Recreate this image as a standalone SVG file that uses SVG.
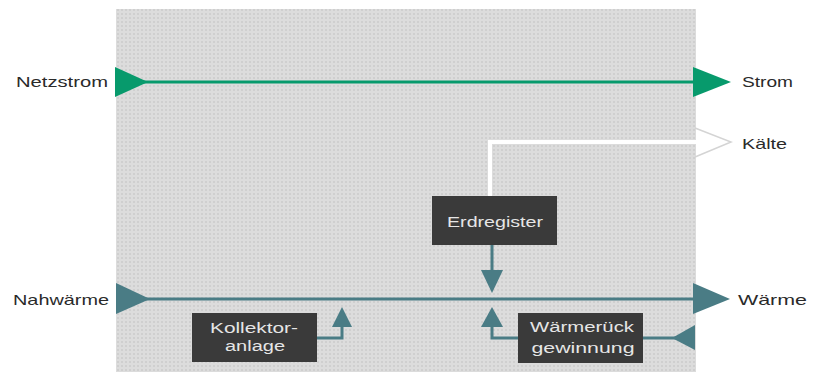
<svg xmlns="http://www.w3.org/2000/svg" width="820" height="372" viewBox="0 0 820 372">
<defs>
<pattern id="dots" width="4" height="4" patternUnits="userSpaceOnUse">
<rect width="4" height="4" fill="#dcdcdc"/>
<rect x="1" y="1" width="2" height="2" fill="#cfcfcf"/>
</pattern>
<style>
.lbl{font-family:"Liberation Sans",Arial,sans-serif;font-size:15px;fill:#2a2a2a}
.btxt{font-family:"Liberation Sans",Arial,sans-serif;font-size:14px;fill:#e6e6e6;text-anchor:middle}
.box{fill:#3a3a3a}
.green{stroke:#079a6c;stroke-width:3;fill:none}
.teal{stroke:#4a7c85;stroke-width:3;fill:none}
.gh{fill:#079a6c}
.th{fill:#4a7c85}
.white{stroke:#ffffff;stroke-width:4;fill:none}
</style>
</defs>
<rect x="0" y="0" width="820" height="372" fill="#ffffff"/>
<rect id="panel" x="116" y="9" width="580" height="363" fill="url(#dots)"/>

<g id="connectors">
<!-- Netzstrom to Strom -->
<line class="green" x1="140" y1="82" x2="700" y2="82"/>
<polygon class="gh" points="115,67 148,82 115,97"/>
<polygon class="gh" points="693,67 731,82 693,97"/>
<!-- Kälte white line -->
<polyline class="white" points="490,196 490,142 696,142"/>
<polyline points="695,128 731,142 695,157" fill="none" stroke="#d4d4d4" stroke-width="1.5"/>
<!-- Nahwärme to Wärme -->
<line class="teal" x1="140" y1="299" x2="700" y2="299"/>
<polygon class="th" points="116,283 150,299 116,314"/>
<polygon class="th" points="693,283 730,299 693,314"/>
<!-- Erdregister down -->
<line class="teal" x1="492" y1="245" x2="492" y2="272"/>
<polygon class="th" points="481,270 503,270 492,293"/>
<!-- Wärmerückgewinnung up -->
<polyline class="teal" points="518,338 492,338 492,325"/>
<polygon class="th" points="481,327 503,327 492,307"/>
<!-- Kollektor up -->
<polyline class="teal" points="317,338 342,338 342,325"/>
<polygon class="th" points="332,327 352,327 342,307"/>
<!-- right bottom arrow into Wärmerück -->
<line class="teal" x1="643" y1="338" x2="680" y2="338"/>
<polygon class="th" points="695,325 672,338 695,350"/>
</g>

<g id="label-netzstrom"><text class="lbl" x="16" y="87" textLength="92" lengthAdjust="spacingAndGlyphs">Netzstrom</text></g>
<g id="label-strom"><text class="lbl" x="742" y="87" textLength="51" lengthAdjust="spacingAndGlyphs">Strom</text></g>
<g id="label-kaelte"><text class="lbl" x="742" y="149" textLength="45" lengthAdjust="spacingAndGlyphs">Kälte</text></g>
<g id="label-nahwaerme"><text class="lbl" x="13" y="305" textLength="96" lengthAdjust="spacingAndGlyphs">Nahwärme</text></g>
<g id="label-waerme"><text class="lbl" x="738" y="305" textLength="69" lengthAdjust="spacingAndGlyphs">Wärme</text></g>

<g id="node-erdregister">
<rect class="box" x="432" y="196" width="125" height="49"/>
<text class="btxt" x="495" y="227" textLength="96" lengthAdjust="spacingAndGlyphs">Erdregister</text>
</g>
<g id="node-kollektor">
<rect class="box" x="192" y="313" width="125" height="49"/>
<text class="btxt" x="254" y="333" textLength="88" lengthAdjust="spacingAndGlyphs">Kollektor-</text>
<text class="btxt" x="255" y="351" textLength="60" lengthAdjust="spacingAndGlyphs">anlage</text>
</g>
<g id="node-waermerueck">
<rect class="box" x="518" y="313" width="125" height="50"/>
<text class="btxt" x="582" y="332" textLength="104" lengthAdjust="spacingAndGlyphs">Wärmerück</text>
<text class="btxt" x="583" y="353" textLength="103" lengthAdjust="spacingAndGlyphs">gewinnung</text>
</g>
</svg>
